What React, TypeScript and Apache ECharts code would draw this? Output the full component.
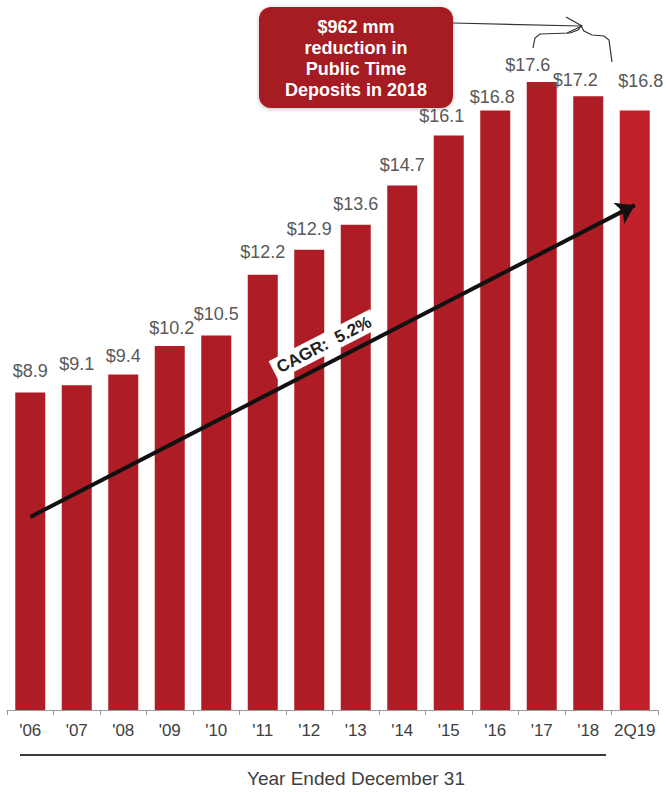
import React, { useEffect, useRef } from "react";
import * as echarts from "echarts";

const categories = ["'06", "'07", "'08", "'09", "'10", "'11", "'12", "'13", "'14", "'15", "'16", "'17", "'18", "2Q19"];
const deposits = [8.9, 9.1, 9.4, 10.2, 10.5, 12.2, 12.9, 13.6, 14.7, 16.1, 16.8, 17.6, 17.2, 16.8];
// small nudges of the value labels (dx, dy) as seen in the reference
const labelNudges: [number, number][] = [
  [0, 0], [0, 0], [0, 2], [2, 3], [0, 0], [0, -2], [0, 0], [0, 0], [0, 0],
  [-7, 1], [-3, 7], [-14, 4], [-13, 5], [6, -9],
];
const cagrStart: [string, number] = ["'06", 5.41];
const cagrEnd: [string, number] = ["2Q19", 14.15];
const cagrText = "CAGR:  5.2%";
const calloutLines = ["$962 mm", "reduction in", "Public Time", "Deposits in 2018"];
const axisTitle = "Year Ended December 31";

const FONT = "'Liberation Sans', Arial, sans-serif";

export default function App() {
  const ref = useRef<HTMLDivElement>(null);
  useEffect(() => {
    if (!ref.current) return;
    const chart = echarts.init(ref.current, undefined, { renderer: "svg" });
    const data = deposits.map((v, i) => ({
      value: v,
      itemStyle: { color: i === deposits.length - 1 ? "#c0212a" : "#ae1d25" },
      label: { offset: labelNudges[i] },
    }));
    chart.setOption({
      animation: false,
      backgroundColor: "#ffffff",
      grid: { left: 7, right: 8, top: 0, bottom: 82, containLabel: false },
      xAxis: {
        type: "category",
        data: categories,
        boundaryGap: true,
        axisLine: { show: true, lineStyle: { color: "#9a9a9a", width: 1 } },
        axisTick: { show: true, length: 5, interval: 0, lineStyle: { color: "#9a9a9a" } },
        axisLabel: { color: "#404040", fontSize: 17, fontFamily: FONT, margin: 12, interval: 0 },
      },
      yAxis: {
        type: "value",
        min: 0,
        max: 19.9,
        show: false,
        splitLine: { show: false },
      },
      series: [
        {
          type: "bar",
          data,
          barWidth: 30,
          label: {
            show: true,
            position: "top",
            distance: 12,
            color: "#595959",
            fontSize: 18,
            fontFamily: FONT,
            formatter: (p: any) => "$" + p.value.toFixed(1),
          },
          markLine: {
            silent: true,
            symbol: ["none", "arrow"],
            symbolSize: 18,
            lineStyle: { color: "#111111", width: 4, type: "solid" },
            label: {
              show: true,
              position: "middle",
              formatter: cagrText,
              color: "#222222",
              fontSize: 17,
              fontWeight: "bold",
              fontFamily: FONT,
              backgroundColor: "#ffffff",
              padding: [2, 5],
              distance: 8,
            },
            data: [[{ coord: cagrStart }, { coord: cagrEnd }]],
          },
        },
      ],
      graphic: [
        {
          type: "rect",
          shape: { x: 259, y: 7, width: 194, height: 101, r: 12 },
          style: { fill: "#a51d24", shadowBlur: 4, shadowColor: "rgba(0,0,0,0.25)", shadowOffsetY: 1 },
          z: 10,
        },
        {
          type: "text",
          x: 356,
          y: 58,
          style: {
            text: calloutLines.join("\n"),
            fill: "#ffffff",
            font: `bold 18px ${FONT}`,
            lineHeight: 21,
            textAlign: "center",
            textVerticalAlign: "middle",
          },
          z: 11,
        },
        {
          type: "line",
          shape: { x1: 453, y1: 23, x2: 581, y2: 26 },
          style: { stroke: "#333333", lineWidth: 1.2 },
          z: 10,
        },
        {
          type: "polyline",
          shape: { points: [[566, 17], [582, 26], [567, 33]] },
          style: { stroke: "#333333", lineWidth: 1.2, fill: "none" },
          z: 10,
        },
        {
          type: "polyline",
          shape: {
            points: [
              [533, 48], [535, 38], [540, 34], [570, 33], [578, 30], [581, 26],
              [584, 31], [592, 35], [604, 36], [609, 40], [612, 62],
            ],
          },
          style: { stroke: "#333333", lineWidth: 1.2, fill: "none" },
          z: 10,
        },
        {
          type: "line",
          shape: { x1: 20, y1: 755, x2: 606, y2: 755 },
          style: { stroke: "#3a3a3a", lineWidth: 2 },
        },
        {
          type: "text",
          x: 356,
          y: 778,
          style: {
            text: axisTitle,
            fill: "#404040",
            font: `19px ${FONT}`,
            textAlign: "center",
            textVerticalAlign: "middle",
          },
        },
      ],
    });
    return () => chart.dispose();
  }, []);
  return (
    <div
      ref={ref}
      style={{ position: "absolute", left: 0, top: 0, width: 666, height: 792 }}
    />
  );
}
